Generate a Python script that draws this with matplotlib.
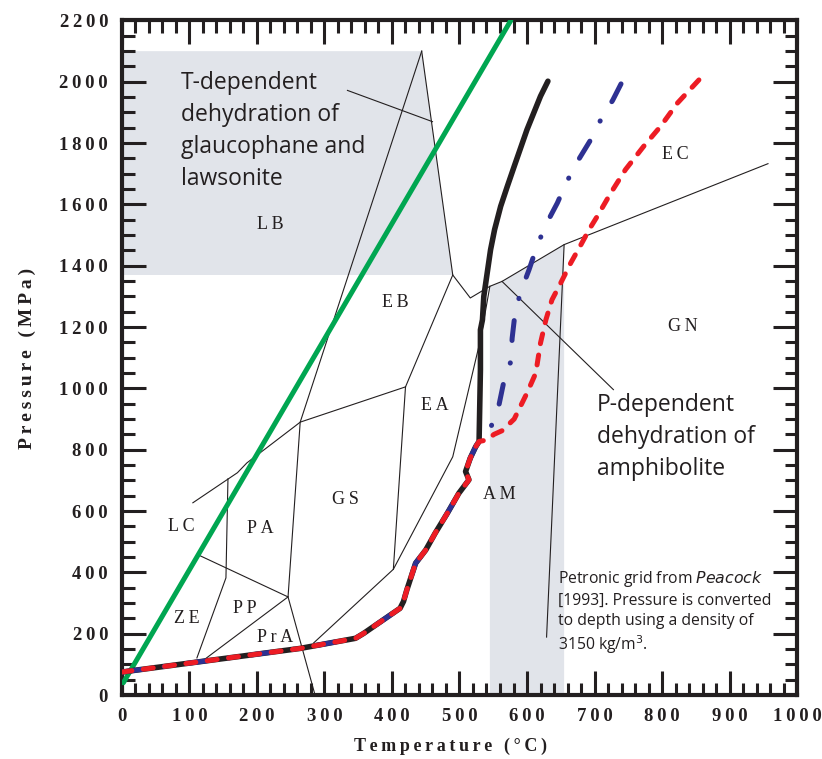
import numpy as np
import matplotlib.pyplot as plt
from matplotlib.ticker import MultipleLocator, FuncFormatter

# 读图得到的数据 (温度 °C, 压力 MPa)
# 俯冲带 P-T 路径：三条线在低温段重合
shared_T = [0, 264, 346, 358, 412, 417, 422, 435, 450, 464, 482, 499, 514, 509, 516, 524, 529]
shared_P = [75, 152, 185, 201, 283, 305, 343, 430, 473, 528, 593, 658, 702, 729, 773, 810, 827]

black_T = [529, 531, 531, 534, 536, 541, 546, 552, 561, 571, 581, 600, 620, 631]
black_P = [827, 1061, 1191, 1224, 1300, 1376, 1452, 1518, 1594, 1660, 1724, 1844, 1953, 2002]

blue_T = [529, 545, 558, 565, 576, 578, 582, 590, 603, 615, 628, 645, 658, 675, 693, 709, 727, 742]
blue_P = [827, 865, 941, 1015, 1088, 1164, 1240, 1311, 1387, 1465, 1534, 1605, 1670, 1741, 1806, 1875, 1940, 2005]

red_T = [529, 541, 551, 563, 581, 600, 613, 620, 628, 637, 650, 665, 680, 692, 704, 724, 746, 773, 798, 823, 855]
red_P = [827, 832, 850, 862, 900, 985, 1050, 1148, 1224, 1289, 1344, 1410, 1469, 1518, 1561, 1637, 1714, 1790, 1855, 1931, 2007]

green_T = [2, 576]
green_P = [40, 2200]

# 变质相边界
tri_left_T = [444, 264, 246, 286]
tri_left_P = [2100, 890, 320, 0]
tri_right_T = [444, 490, 516, 545, 563, 655, 957]
tri_right_P = [2100, 1370, 1295, 1333, 1349, 1469, 1733]
eb_ea_T = [490, 420]
eb_ea_P = [1370, 1005]
ea_gs_T = [420, 402]
ea_gs_P = [1005, 410]
am_ea_T = [545, 531, 490, 402, 284]
am_ea_P = [1333, 1159, 777, 410, 170]
lc_top_T = [420, 264, 257, 185, 171, 105]
lc_top_P = [1005, 890, 878, 757, 725, 627]
pa_lc_T = [157, 154, 111]
pa_lc_P = [705, 382, 121]
lc_ze_T = [113, 246]
lc_ze_P = [457, 320]
pp_pra_T = [246, 121]
pp_pra_P = [320, 114]
am_gn_T = [655, 629]
am_gn_P = [1469, 189]

lead_t_T = [334, 460]
lead_t_P = [1972, 1870]
lead_p_T = [563, 728]
lead_p_P = [1349, 996]

# 阴影区
lb_T = [0, 444, 490, 0]
lb_P = [2100, 2100, 1370, 1370]
am_T = [545, 545, 563, 655, 655]
am_P = [0, 1333, 1349, 1469, 0]

zone_names = ['LB', 'EB', 'EA', 'GS', 'PA', 'LC', 'ZE', 'PP', 'PrA', 'AM', 'GN', 'EC']
zone_T = [219, 405, 463, 331, 205, 88, 96, 182, 227, 559, 831, 820]
zone_P = [1534, 1280, 943, 637, 543, 550, 250, 282, 188, 653, 1201, 1763]

ink = '#231f20'
serif = ['Liberation Serif', 'DejaVu Serif']
sans = ['Open Sans', 'DejaVu Sans']
ts = '\u2009'  # 字间距

fig = plt.figure(figsize=(8.22, 7.59), dpi=100)
ax = fig.add_axes([0.1484, 0.0843, 0.8212, 0.8887])

ax.fill(lb_T, lb_P, color='#e1e4ea', lw=0, zorder=0)
ax.fill(am_T, am_P, color='#e1e4ea', lw=0, zorder=0)

for tt, pp in [(tri_left_T, tri_left_P), (tri_right_T, tri_right_P), (eb_ea_T, eb_ea_P),
               (ea_gs_T, ea_gs_P), (am_ea_T, am_ea_P), (lc_top_T, lc_top_P),
               (pa_lc_T, pa_lc_P), (lc_ze_T, lc_ze_P), (pp_pra_T, pp_pra_P),
               (am_gn_T, am_gn_P), (lead_t_T, lead_t_P), (lead_p_T, lead_p_P)]:
    ax.plot(tt, pp, color=ink, lw=0.8, zorder=1)

ax.plot(green_T, green_P, color='#00a651', lw=3.6, solid_capstyle='round', zorder=3)

ax.plot(shared_T + black_T[1:], shared_P + black_P[1:], color=ink, lw=4.0,
        solid_capstyle='round', solid_joinstyle='round', zorder=4)
ax.plot(shared_T + blue_T[1:], shared_P + blue_P[1:], color='#2e3192', lw=3.6,
        dashes=(4.0, 4.5, 0.05, 4.5), dash_capstyle='round', zorder=5)
ax.plot(shared_T + red_T[1:], shared_P + red_P[1:], color='#ed1c24', lw=3.6,
        dashes=(2.0, 2.3), dash_capstyle='round', zorder=6)

for name, t, p in zip(zone_names, zone_T, zone_P):
    ax.text(t, p, ts.join(name), ha='center', va='center', fontsize=13,
            family=serif, color=ink, zorder=7)

ax.text(87, 2035, 'T-dependent\ndehydration of\nglaucophane and\nlawsonite',
        ha='left', va='top', fontsize=16.5, family=sans, color=ink, linespacing=1.45, zorder=7)
ax.text(704, 985, 'P-dependent\ndehydration of\namphibolite',
        ha='left', va='top', fontsize=16.5, family=sans, color=ink, linespacing=1.45, zorder=7)
ax.text(646, 410, 'Petronic grid from $\\it{Peacock}$\n[1993]. Pressure is converted\n'
        'to depth using a density of\n3150 kg/m$^3$.',
        ha='left', va='top', fontsize=11.3, family=sans, color=ink, linespacing=1.3, zorder=7)

ax.set_xlim(0, 1000)
ax.set_ylim(0, 2200)
ax.xaxis.set_major_locator(MultipleLocator(100))
ax.xaxis.set_minor_locator(MultipleLocator(20))
ax.yaxis.set_major_locator(MultipleLocator(200))
ax.yaxis.set_minor_locator(MultipleLocator(50))
fmt = FuncFormatter(lambda v, pos: ts.join(str(int(round(v)))))
ax.xaxis.set_major_formatter(fmt)
ax.yaxis.set_major_formatter(fmt)

for s in ax.spines.values():
    s.set_linewidth(3)
    s.set_color(ink)
ax.tick_params(which='both', direction='in', top=True, right=True, color=ink, width=2.2)
ax.tick_params(which='major', length=17)
ax.tick_params(which='minor', length=9)
ax.tick_params(axis='y', pad=10)
ax.tick_params(axis='x', pad=9)
for lab in ax.get_xticklabels() + ax.get_yticklabels():
    lab.set_family(serif)
    lab.set_fontweight('bold')
    lab.set_fontsize(13.5)
    lab.set_color(ink)

fig.text(450 / 822, 1 - 746 / 759, ts.join('Temperature (°C)'), ha='center', va='center',
         fontsize=13, fontweight='bold', family=serif, color=ink)
fig.text(27 / 822, 1 - 358 / 759, ts.join('Pressure (MPa)'), ha='center', va='center',
         rotation=90, fontsize=14, fontweight='bold', family=serif, color=ink)

fig.savefig('out.png', dpi=100)
